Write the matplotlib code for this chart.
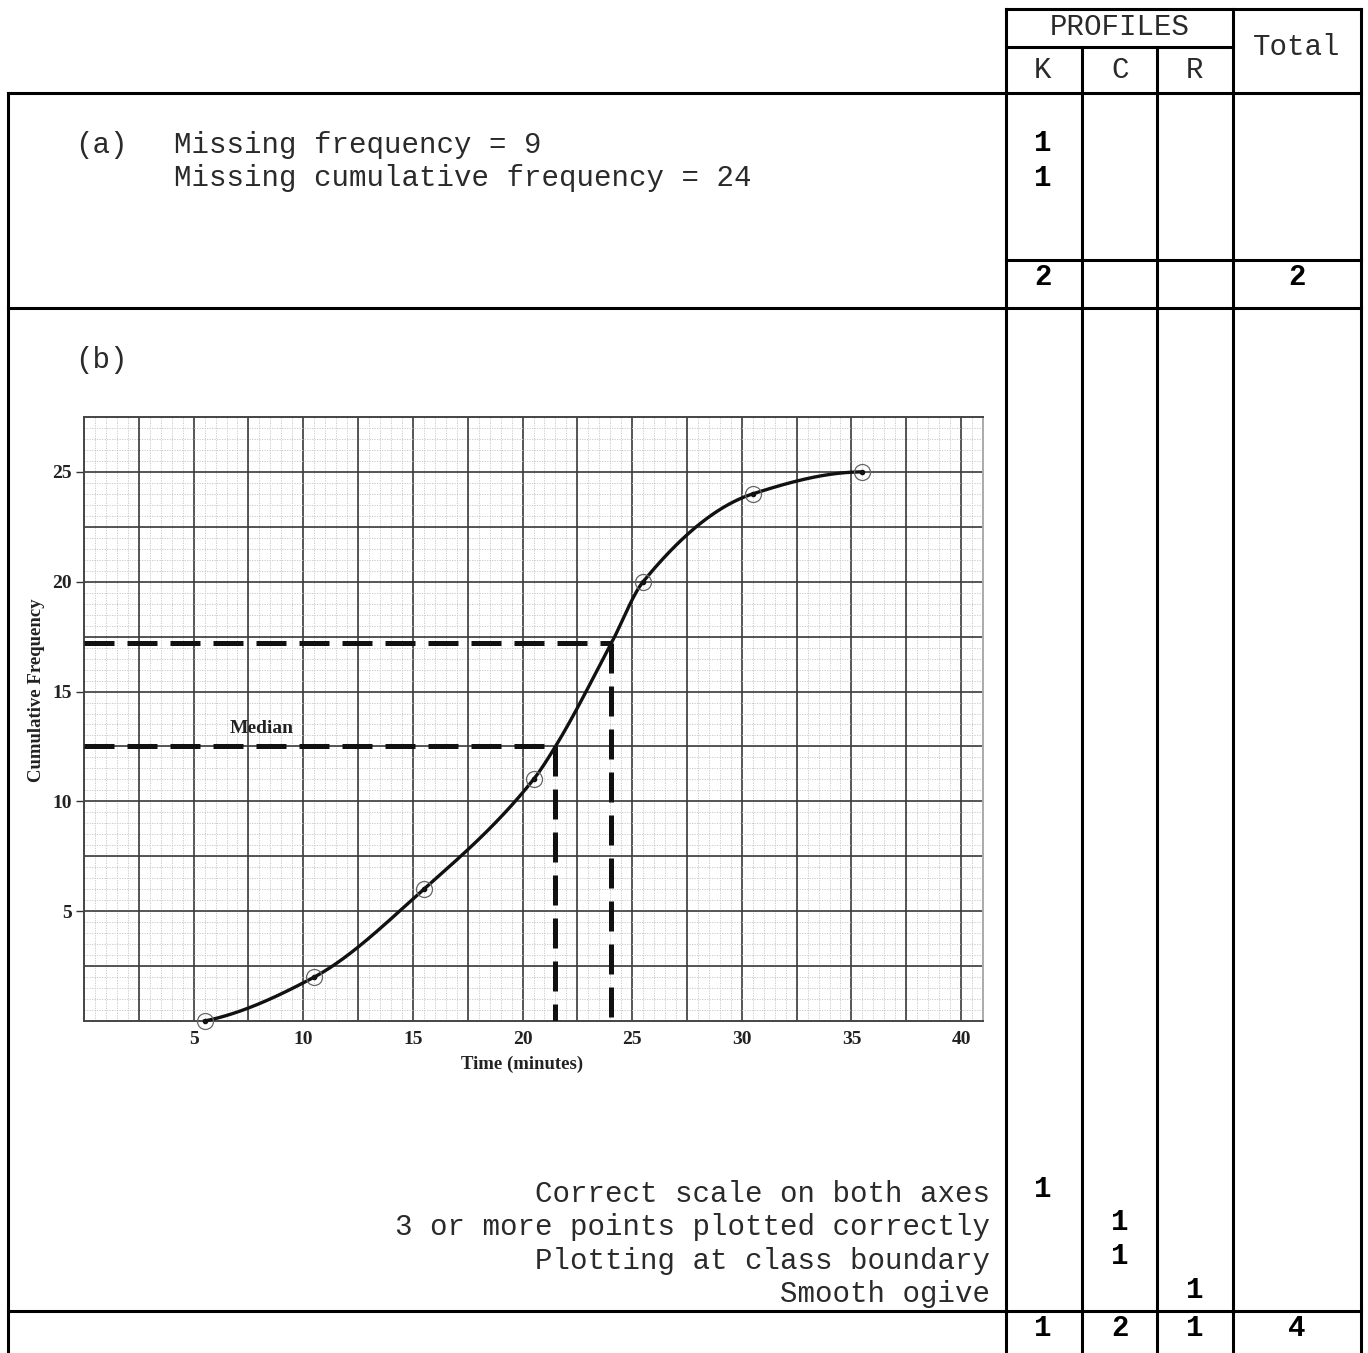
import numpy as np
import matplotlib
matplotlib.use("Agg")
import matplotlib.pyplot as plt
from matplotlib.ticker import MultipleLocator, FixedLocator

# ---------------- data ----------------
upper_bounds = [5.5, 10.5, 15.5, 20.5, 25.5, 30.5, 35.5]
cum_freq = [0, 2, 6, 11, 20, 24, 25]
median_time, median_cf = 21.5, 12.5
q_time, q_cf = 24.05, 17.2
x_ticks = [5, 10, 15, 20, 25, 30, 35, 40]
y_ticks = [5, 10, 15, 20, 25]

part_a_lines = ["Missing frequency = 9", "Missing cumulative frequency = 24"]
part_b_lines = ["Correct scale on both axes", "3 or more points plotted correctly",
                "Plotting at class boundary", "Smooth ogive"]
profile_cols = ["K", "C", "R"]
a_marks_K = ["1", "1"]
a_totals = {"K": "2", "Total": "2"}
b_marks = [("K", "1"), ("C", "1"), ("C", "1"), ("R", "1")]
b_totals = {"K": "1", "C": "2", "R": "1", "Total": "4"}

# ---------------- helpers ----------------
def pchip(xk, yk, xs):
    xk = np.asarray(xk, float); yk = np.asarray(yk, float)
    h = np.diff(xk); d = np.diff(yk) / h
    n = len(xk); m = np.zeros(n)
    for k in range(1, n - 1):
        if d[k - 1] * d[k] > 0:
            w1 = 2 * h[k] + h[k - 1]; w2 = h[k] + 2 * h[k - 1]
            m[k] = (w1 + w2) / (w1 / d[k - 1] + w2 / d[k])
    def end(h0, h1, d0, d1):
        v = ((2 * h0 + h1) * d0 - h0 * d1) / (h0 + h1)
        if np.sign(v) != np.sign(d0):
            v = 0
        elif np.sign(d0) != np.sign(d1) and abs(v) > abs(3 * d0):
            v = 3 * d0
        return v
    m[0] = end(h[0], h[1], d[0], d[1])
    m[-1] = end(h[-1], h[-2], d[-1], d[-2])
    idx = np.clip(np.searchsorted(xk, xs) - 1, 0, n - 2)
    t = (xs - xk[idx]) / h[idx]
    h00 = 2 * t**3 - 3 * t**2 + 1; h10 = t**3 - 2 * t**2 + t
    h01 = -2 * t**3 + 3 * t**2; h11 = t**3 - t**2
    return h00 * yk[idx] + h10 * h[idx] * m[idx] + h01 * yk[idx + 1] + h11 * h[idx] * m[idx + 1]

W, H = 1368, 1353
fig = plt.figure(figsize=(W / 100, H / 100), dpi=100)
fig.patch.set_facecolor("white")

# ---------------- table overlay (pixel coords) ----------------
ov = fig.add_axes([0, 0, 1, 1])
ov.set_xlim(0, W); ov.set_ylim(H, 0); ov.axis("off")
lw = 2.2
def hl(y, x0, x1): ov.plot([x0, x1], [y, y], color="black", lw=lw, solid_capstyle="projecting")
def vl(x, y0, y1): ov.plot([x, x], [y0, y1], color="black", lw=lw, solid_capstyle="projecting")

L, R = 8, 1361
cK, cC, cR, cT = 1006, 1082, 1157, 1233
hl(9, cK, R); hl(47, cK, cT); hl(93, L, R)
hl(260, cK, R); hl(308, L, R); hl(1311, L, R)
vl(L, 93, H); vl(cK, 9, H); vl(cT, 9, H); vl(R, 9, H)
vl(cC, 47, H); vl(cR, 47, H)

mono = "Liberation Mono"
fs = 21
tcol = "#2a2a2a"
colx = {"K": 1043, "C": 1120, "R": 1195, "Total": 1297}
ov.text(1120, 27, "PROFILES", ha="center", va="center", family=mono, fontsize=fs, color=tcol)
ov.text(1297, 47, "Total", ha="center", va="center", family=mono, fontsize=fs, color=tcol)
for c in profile_cols:
    ov.text(colx[c], 70, c, ha="center", va="center", family=mono, fontsize=fs, color=tcol)

ov.text(75, 145, "(a)", ha="left", va="center", family=mono, fontsize=fs, color=tcol)
for i, s in enumerate(part_a_lines):
    ov.text(174, 145 + 33 * i, s, ha="left", va="center", family=mono, fontsize=fs, color=tcol)
for i, s in enumerate(a_marks_K):
    ov.text(colx["K"], 143 + 35 * i, s, ha="center", va="center", family=mono, fontsize=fs, fontweight="bold")
for k, s in a_totals.items():
    ov.text(colx[k], 277, s, ha="center", va="center", family=mono, fontsize=fs, fontweight="bold")

ov.text(75, 360, "(b)", ha="left", va="center", family=mono, fontsize=fs, color=tcol)
for i, s in enumerate(part_b_lines):
    ov.text(990, 1194 + 33.3 * i, s, ha="right", va="center", family=mono, fontsize=fs, color=tcol)
for i, (c, s) in enumerate(b_marks):
    ov.text(colx[c], 1189 + 33.5 * i, s, ha="center", va="center", family=mono, fontsize=fs, fontweight="bold")
for k, s in b_totals.items():
    ov.text(colx[k], 1328, s, ha="center", va="center", family=mono, fontsize=fs, fontweight="bold")

# ---------------- chart ----------------
ax_l, ax_r, ax_t, ax_b = 84, 983, 417, 1021
ax = fig.add_axes([ax_l / W, (H - ax_b) / H, (ax_r - ax_l) / W, (ax_b - ax_t) / H])
ax.set_xlim(0, 41.0)
ax.set_ylim(0, 27.5)
ax.set_facecolor("white")

serif = "Liberation Serif"
ax.xaxis.set_major_locator(FixedLocator(x_ticks))
ax.yaxis.set_major_locator(FixedLocator(y_ticks))
ax.set_xticklabels([str(v) for v in x_ticks], fontfamily=serif, fontweight="bold", fontsize=14, color="#222")
ax.set_yticklabels([str(v) for v in y_ticks], fontfamily=serif, fontweight="bold", fontsize=14, color="#222")
ax.xaxis.set_minor_locator(MultipleLocator(0.5))
ax.yaxis.set_minor_locator(MultipleLocator(0.5))
ax.tick_params(axis="x", which="major", length=0, pad=7)
ax.tick_params(axis="y", which="major", length=6, width=1, color="#333", pad=3)
ax.tick_params(which="minor", length=0)

# grid
ax.grid(which="minor", color="#c4c4c4", lw=0.6, ls=(0, (1.5, 1.5)), zorder=0)
ax.grid(which="major", color="#3a3a3a", lw=1.2, ls="-", zorder=1)
for v in np.arange(2.5, 41, 5):
    ax.axvline(v, color="#3a3a3a", lw=1.2, zorder=1)
for v in np.arange(2.5, 27.5, 5):
    ax.axhline(v, color="#3a3a3a", lw=1.2, zorder=1)
ax.set_axisbelow(True)
for sp in ax.spines.values():
    sp.set_color("#444"); sp.set_linewidth(1.4)
ax.spines["right"].set_color("#aaa")

# dashed reading lines
dash_kw = dict(color="#111", lw=3.6, dashes=(6, 2.6), zorder=3, solid_capstyle="butt", dash_capstyle="butt")
ax.plot([0, q_time], [q_cf, q_cf], **dash_kw)
ax.plot([q_time, q_time], [q_cf, 0], **dash_kw)
ax.plot([0, median_time], [median_cf, median_cf], **dash_kw)
ax.plot([median_time, median_time], [median_cf, 0], **dash_kw)

# smooth ogive through the plotted points and the readings
kx = np.array(upper_bounds[:4] + [median_time, q_time] + upper_bounds[4:])
ky = np.array(cum_freq[:4] + [median_cf, q_cf] + cum_freq[4:])
xs = np.linspace(kx[0], kx[-1], 600)
ax.plot(xs, pchip(kx, ky, xs), color="#111", lw=2.4, zorder=4, clip_on=False)

ax.plot(upper_bounds, cum_freq, ls="none", marker="o", ms=11.5, mfc="none",
        mec="#666", mew=0.9, zorder=5, clip_on=False)
ax.plot(upper_bounds, cum_freq, ls="none", marker="o", ms=3, color="#111", zorder=5, clip_on=False)

ax.text(8.1, 13.3, "Median", ha="center", va="center", family=serif, fontweight="bold",
        fontsize=14, color="#222", zorder=6)

ax.set_xlabel("Time (minutes)", fontfamily=serif, fontweight="bold", fontsize=13.5, color="#222")
ax.set_ylabel("Cumulative Frequency", fontfamily=serif, fontweight="bold", fontsize=13.5, color="#222")
ax.xaxis.set_label_coords(0.487, -0.071)
ax.yaxis.set_label_coords(-0.053, 0.548)
ax.xaxis.label.set_va("center")
ax.yaxis.label.set_va("center")

fig.savefig("out.png", dpi=100, facecolor="white")
